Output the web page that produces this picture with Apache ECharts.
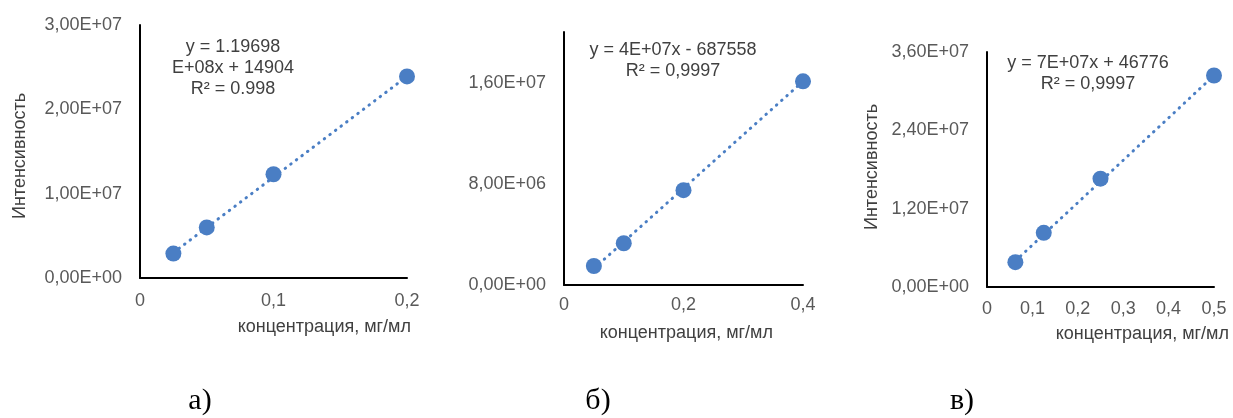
<!DOCTYPE html>
<html>
<head>
<meta charset="utf-8">
<script src="https://cdn.jsdelivr.net/npm/echarts@6/dist/echarts.min.js"></script>
<style>
  html, body { margin: 0; padding: 0; background: #fff; }
  #main { width: 1233px; height: 418px; }
</style>
</head>
<body>
<div id="main"></div>
<script>
// points
var pointsA = [[0.025, 2.9e6], [0.05, 6.0e6], [0.1, 1.23e7], [0.2, 2.39e7]];
var pointsB = [[0.05, 1.5e6], [0.1, 3.3e6], [0.2, 7.5e6], [0.4, 1.61e7]];
var pointsC = [[0.0625, 3.8e6], [0.125, 8.3e6], [0.25, 1.66e7], [0.5, 3.24e7]];

// trend line ends (as drawn)
var trendA = [[0.025, 3.0e6], [0.2, 2.39e7]];
var trendB = [[0.05, 1.3e6], [0.4, 1.61e7]];
var trendC = [[0.0625, 4.0e6], [0.5, 3.24e7]];

var eqA = ['y = 1.19698', 'E+08x + 14904', 'R\u00b2 = 0.998'];
var eqB = ['y = 4E+07x - 687558', 'R\u00b2 = 0,9997'];
var eqC = ['y = 7E+07x + 46776', 'R\u00b2 = 0,9997'];

var xTitle = 'концентрация, мг/мл';
var yTitle = 'Интенсивность';
var captions = ['а)', 'б)', 'в)'];

var blue = '#4a7ec4';
var txt = '#404040';
var font = 'Liberation Sans, Arial, sans-serif';

function sci(v) {
    if (v === 0) return '0,00E+00';
    var e = Math.floor(Math.log10(v) + 1e-9);
    var m = v / Math.pow(10, e);
    return m.toFixed(2).replace('.', ',') + 'E+' + (e < 10 ? '0' + e : e);
}
function dec(v) {
    return String(+v.toFixed(2)).replace('.', ',');
}

var grids = [
    {left: 140, top: 25, width: 267, height: 253},
    {left: 564, top: 32, width: 239, height: 253},
    {left: 987, top: 52, width: 227, height: 235}
];
var xAx = [
    {max: 0.2, interval: 0.1, margin: 14},
    {max: 0.4, interval: 0.2, margin: 11},
    {max: 0.5, interval: 0.1, margin: 13}
];
var yAx = [
    {max: 3e7, interval: 1e7},
    {max: 2e7, interval: 8e6},
    {max: 3.6e7, interval: 1.2e7}
];

var xAxis = xAx.map(function (a, i) {
    return {
        type: 'value', gridIndex: i, min: 0, max: a.max, interval: a.interval,
        axisLine: {show: true, lineStyle: {color: '#000', width: 2}},
        axisTick: {show: false}, splitLine: {show: false},
        axisLabel: {color: '#595959', fontSize: 18, fontFamily: font, margin: a.margin, formatter: dec}
    };
});
var yAxis = yAx.map(function (a, i) {
    return {
        type: 'value', gridIndex: i, min: 0, max: a.max, interval: a.interval,
        axisLine: {show: true, lineStyle: {color: '#000', width: 2}},
        axisTick: {show: false}, splitLine: {show: false},
        axisLabel: {color: '#595959', fontSize: 18, fontFamily: font, margin: 18,
            formatter: sci, showMaxLabel: i !== 1}
    };
});

var series = [];
[pointsA, pointsB, pointsC].forEach(function (pts, i) {
    var tr = [trendA, trendB, trendC][i];
    series.push({
        type: 'line', xAxisIndex: i, yAxisIndex: i, data: tr, symbol: 'none', silent: true,
        lineStyle: {color: blue, width: 3, type: [0.5, 6.5], cap: 'round'}, z: 2
    });
    series.push({
        type: 'scatter', xAxisIndex: i, yAxisIndex: i, data: pts, symbolSize: 16,
        itemStyle: {color: blue, opacity: 1}, z: 3
    });
});

function eqText(lines, x, y) {
    return {type: 'text', x: x, y: y,
        style: {text: lines.join('\n'), fill: txt, font: '18px ' + font, textAlign: 'center', lineHeight: 21}};
}
function caption(s, x) {
    return {type: 'text', x: x, y: 401,
        style: {text: s, fill: '#000', font: '30px Liberation Serif, serif', textAlign: 'center', textVerticalAlign: 'middle'}};
}

var graphic = [
    eqText(eqA, 233, 37),
    eqText(eqB, 673, 40),
    eqText(eqC, 1088, 53),
    {type: 'text', x: 411, y: 318, style: {text: xTitle, fill: txt, font: '18px ' + font, textAlign: 'right'}},
    {type: 'text', x: 773, y: 324, style: {text: xTitle, fill: txt, font: '18px ' + font, textAlign: 'right'}},
    {type: 'text', x: 1229, y: 325, style: {text: xTitle, fill: txt, font: '18px ' + font, textAlign: 'right'}},
    {type: 'text', x: 11, y: 156, rotation: Math.PI / 2,
        style: {text: yTitle, fill: txt, font: '18px ' + font, textAlign: 'center', textVerticalAlign: 'top'}},
    {type: 'text', x: 863, y: 167, rotation: Math.PI / 2,
        style: {text: yTitle, fill: txt, font: '18px ' + font, textAlign: 'center', textVerticalAlign: 'top'}},
    caption(captions[0], 200),
    caption(captions[1], 598),
    caption(captions[2], 962)
];

var chart = echarts.init(document.getElementById('main'));
chart.setOption({
    animation: false,
    backgroundColor: '#fff',
    grid: grids,
    xAxis: xAxis,
    yAxis: yAxis,
    series: series,
    graphic: graphic
});
</script>
</body>
</html>
